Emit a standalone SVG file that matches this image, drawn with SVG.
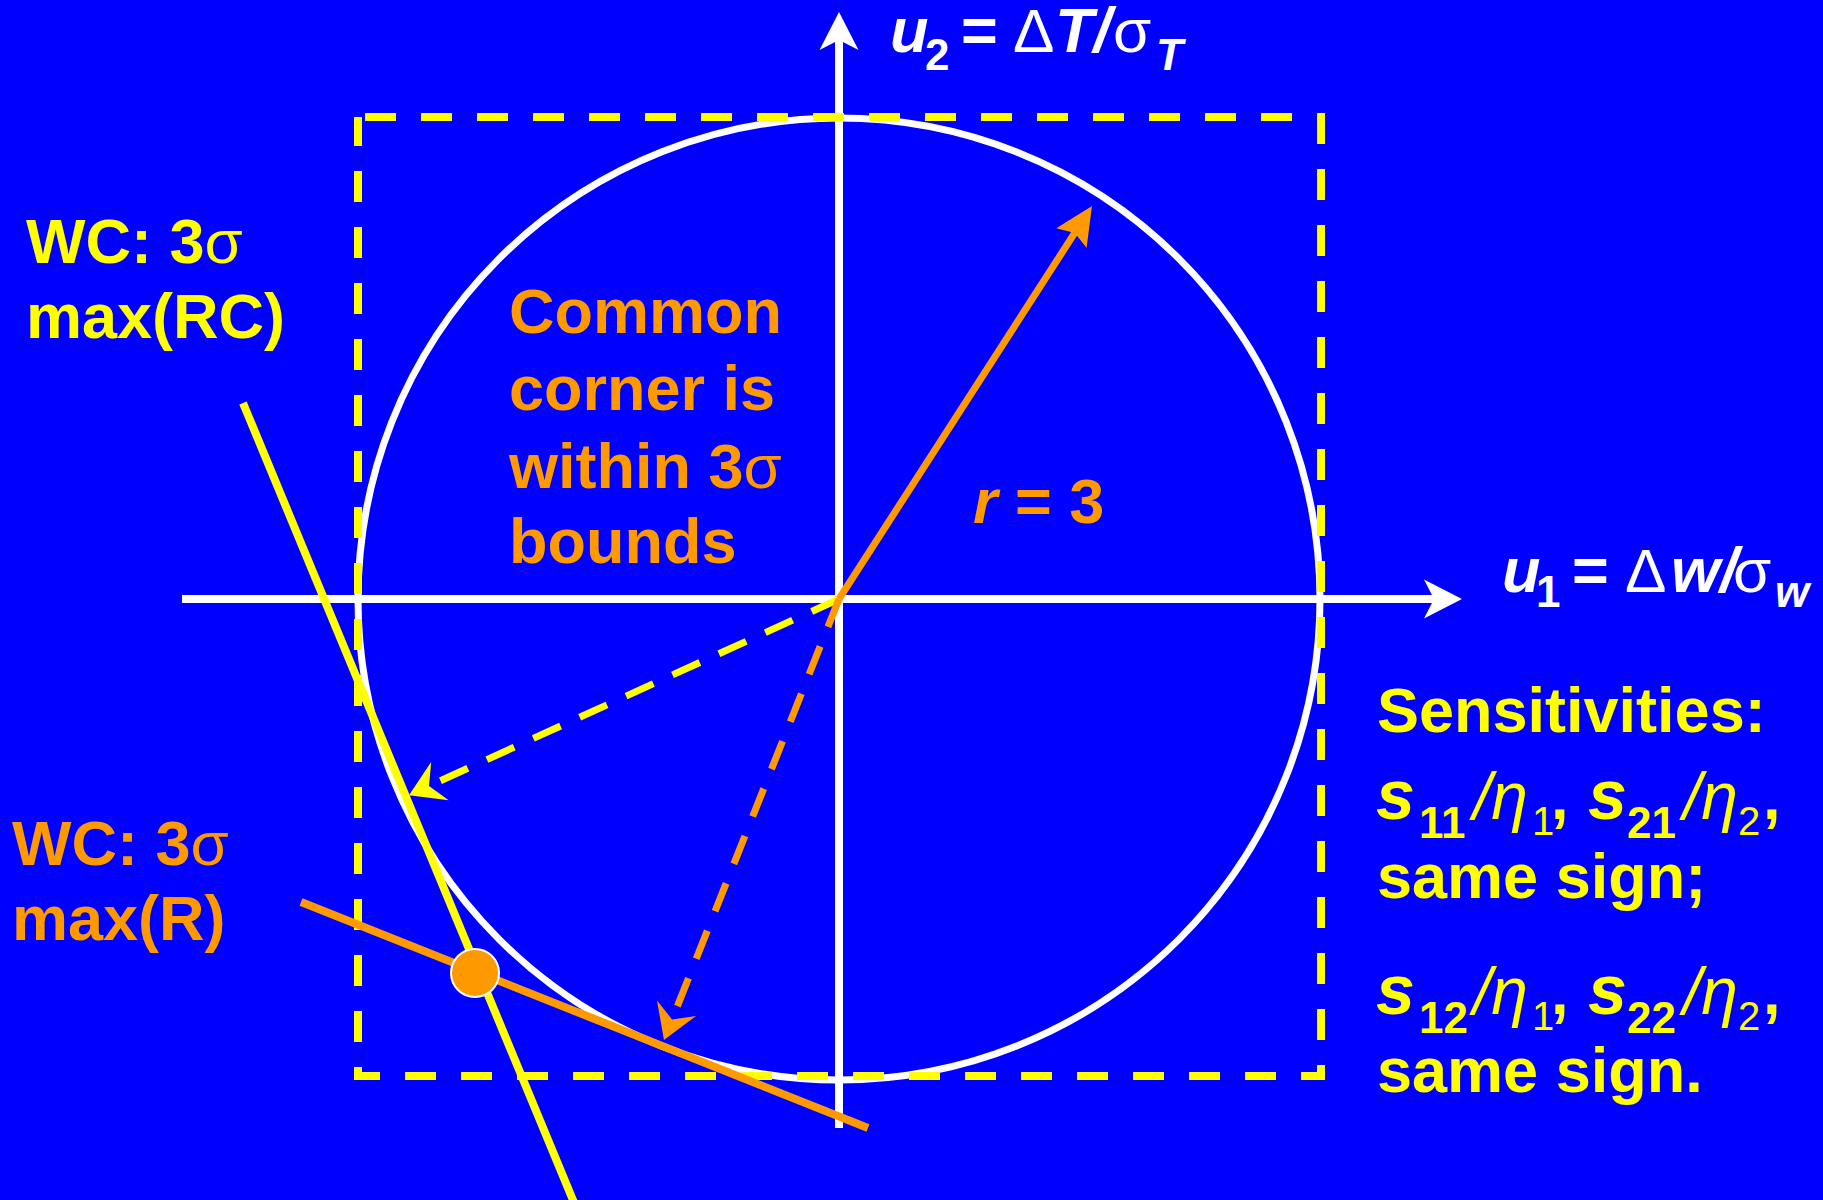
<svg xmlns="http://www.w3.org/2000/svg" width="1823" height="1200" viewBox="0 0 1823 1200">
<style>
  .t { font-family: "Liberation Sans", Arial, sans-serif; font-weight: bold; font-size: 63px; }
  .w { fill: #FFFFFF; }
  .y { fill: #FFFF00; }
  .o { fill: #FF9900; }
  .i { font-style: italic; }
  .n { font-weight: normal; }
  .sub { font-size: 44px; }
  .sym { font-weight: normal; font-size: 62px; }
  .axis { stroke: #FFFFFF; stroke-width: 8; fill: none; }
</style>
<defs>
  <marker id="axHead" markerUnits="userSpaceOnUse" viewBox="-12 -22 42 44" refX="0" refY="0" markerWidth="42" markerHeight="44" orient="auto" overflow="visible">
    <path d="M28,0 L-10,-19.5 L0,0 L-10,19.5 Z" fill="#FFFFFF"/>
  </marker>
  <marker id="orHead" markerUnits="userSpaceOnUse" viewBox="-8 -20 42 40" refX="0" refY="0" markerWidth="42" markerHeight="40" orient="auto" overflow="visible">
    <path d="M32,0 L-6,-18 L0,0 L-6,18 Z" fill="#FF9900"/>
  </marker>
  <marker id="yDash" markerUnits="userSpaceOnUse" viewBox="-14 -23 38 46" refX="0" refY="0" markerWidth="38" markerHeight="46" orient="auto" overflow="visible">
    <path d="M22,0 L-12,-21 L0,0 L-12,21 Z" fill="#FFFF00"/>
  </marker>
  <marker id="oDash" markerUnits="userSpaceOnUse" viewBox="-14 -23 38 46" refX="0" refY="0" markerWidth="38" markerHeight="46" orient="auto" overflow="visible">
    <path d="M22,0 L-12,-21 L0,0 L-12,21 Z" fill="#FF9900"/>
  </marker>
</defs>
<rect x="0" y="0" width="1823" height="1200" fill="#0000FF"/>

<g id="connectors">
  <line id="axis-u1" class="axis" x1="182" y1="599" x2="1434" y2="599" marker-end="url(#axHead)"/>
  <line id="axis-u2" class="axis" x1="839" y1="1128" x2="839" y2="40" marker-end="url(#axHead)"/>
  <circle id="circle-3sigma" cx="839" cy="599" r="481" fill="none" stroke="#FFFFFF" stroke-width="7"/>
  <rect id="box-3sigma" x="358" y="117" width="963" height="959" fill="none" stroke="#FFFF00" stroke-width="8" stroke-dasharray="31 25" stroke-dashoffset="-7"/>
  <line id="line-RC" x1="243" y1="403" x2="575" y2="1205" stroke="#FFFF00" stroke-width="8"/>
  <line id="dash-RC" x1="839" y1="599" x2="429" y2="786" stroke="#FFFF00" stroke-width="7" stroke-dasharray="30 21" marker-end="url(#yDash)"/>
  <line id="line-R" x1="301" y1="902" x2="868" y2="1128" stroke="#FF9900" stroke-width="8"/>
  <line id="dash-R" x1="839" y1="599" x2="672.1" y2="1019.5" stroke="#FF9900" stroke-width="7" stroke-dasharray="30 21" marker-end="url(#oDash)"/>
  <line id="radius" x1="839" y1="599" x2="1074.7" y2="232.9" stroke="#FF9900" stroke-width="7" marker-end="url(#orHead)"/>
</g>

<g id="common-corner-dot">
  <circle cx="475" cy="973" r="24" fill="#FF9900" stroke="#FFFFFF" stroke-width="2"/>
</g>

<g id="label-u2">
  <text class="t w" y="52"><tspan class="i" x="890">u</tspan><tspan class="sub" x="925" y="70">2</tspan><tspan x="961" y="52">=</tspan><tspan class="sym" x="1013">Δ</tspan><tspan class="i" x="1055">T/</tspan><tspan class="sym" x="1113">σ</tspan><tspan class="i sub" x="1156" y="70">T</tspan></text>
</g>

<g id="label-u1">
  <text class="t w" y="592"><tspan class="i" x="1502">u</tspan><tspan class="sub" x="1536" y="607">1</tspan><tspan x="1572" y="592">=</tspan><tspan class="sym" x="1625">Δ</tspan><tspan class="i" x="1671">w/</tspan><tspan class="sym" x="1733">σ</tspan><tspan class="i sub" x="1775" y="607">w</tspan></text>
</g>

<g id="label-wc-rc">
  <text class="t y" x="26" y="263">WC: 3<tspan class="sym">σ</tspan></text>
  <text class="t y" x="26" y="338">max(RC)</text>
</g>

<g id="label-wc-r">
  <text class="t o" x="12" y="865">WC: 3<tspan class="sym">σ</tspan></text>
  <text class="t o" x="12" y="940">max(R)</text>
</g>

<g id="label-common">
  <text class="t o" x="509" y="333">Common</text>
  <text class="t o" x="509" y="410">corner is</text>
  <text class="t o" x="509" y="488">within 3<tspan class="sym">σ</tspan></text>
  <text class="t o" x="509" y="563">bounds</text>
</g>

<g id="label-r">
  <text class="t o" x="973" y="523"><tspan class="i">r</tspan> = 3</text>
</g>

<g id="label-sensitivities">
  <text class="t y" x="1377" y="732">Sensitivities:</text>
  <text class="t y" y="819"><tspan class="i" font-size="70" x="1376">s</tspan><tspan class="sub" font-size="48" x="1419" y="838">11</tspan><tspan class="i n" font-size="66" x="1473" y="819">/η</tspan><tspan class="n" font-size="40" x="1532" y="835">1</tspan><tspan x="1551" y="819">,</tspan><tspan class="i" font-size="70" x="1588">s</tspan><tspan class="sub" font-size="48" x="1627" y="838">21</tspan><tspan class="i n" font-size="66" x="1683" y="819">/η</tspan><tspan class="n" font-size="40" x="1738" y="835">2</tspan><tspan x="1763" y="819">,</tspan></text>
  <text class="t y" x="1377" y="898">same sign;</text>
  <text class="t y" y="1014"><tspan class="i" font-size="70" x="1376">s</tspan><tspan class="sub" font-size="48" x="1419" y="1033">12</tspan><tspan class="i n" font-size="66" x="1473" y="1014">/η</tspan><tspan class="n" font-size="40" x="1532" y="1030">1</tspan><tspan x="1551" y="1014">,</tspan><tspan class="i" font-size="70" x="1588">s</tspan><tspan class="sub" font-size="48" x="1627" y="1033">22</tspan><tspan class="i n" font-size="66" x="1683" y="1014">/η</tspan><tspan class="n" font-size="40" x="1738" y="1030">2</tspan><tspan x="1763" y="1014">,</tspan></text>
  <text class="t y" x="1377" y="1092">same sign.</text>
</g>
</svg>
